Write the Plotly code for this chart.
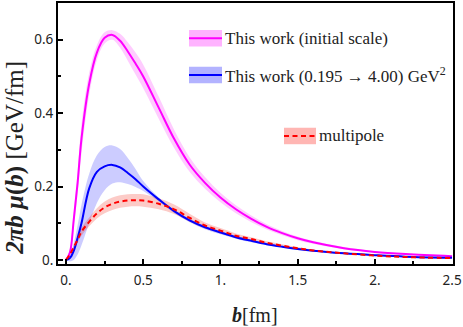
import plotly.graph_objects as go

# ---- data ----
b = [0, 0.025, 0.05, 0.075, 0.1, 0.15, 0.2, 0.25, 0.3, 0.35, 0.4, 0.45, 0.5, 0.6, 0.7, 0.8, 0.9,
     1.0, 1.1, 1.2, 1.3, 1.4, 1.5, 1.6, 1.8, 2.0, 2.2, 2.5]

initial = [0, 0.02, 0.11, 0.21, 0.33, 0.48, 0.565, 0.605, 0.613, 0.597, 0.568, 0.535, 0.50, 0.415, 0.33,
           0.26, 0.21, 0.17, 0.138, 0.112, 0.090, 0.073, 0.059, 0.048, 0.032, 0.022, 0.016, 0.010]
initial_lo = [0, 0.012, 0.09, 0.18, 0.29, 0.45, 0.545, 0.59, 0.600, 0.578, 0.543, 0.505, 0.468, 0.385, 0.305,
              0.24, 0.194, 0.157, 0.127, 0.103, 0.083, 0.067, 0.054, 0.044, 0.029, 0.020, 0.014, 0.009]
initial_hi = [0, 0.03, 0.13, 0.24, 0.37, 0.51, 0.585, 0.62, 0.626, 0.616, 0.593, 0.565, 0.532, 0.445, 0.355,
              0.28, 0.226, 0.183, 0.149, 0.121, 0.097, 0.079, 0.064, 0.052, 0.035, 0.024, 0.018, 0.011]

evolved = [0, 0.005, 0.025, 0.06, 0.10, 0.195, 0.24, 0.255, 0.259, 0.252, 0.237, 0.22, 0.20, 0.165, 0.133,
           0.108, 0.089, 0.075, 0.062, 0.052, 0.043, 0.036, 0.030, 0.025, 0.018, 0.013, 0.009, 0.006]
evolved_lo = [0, -0.004, 0.0, 0.015, 0.04, 0.10, 0.155, 0.19, 0.208, 0.212, 0.207, 0.199, 0.188, 0.160, 0.128,
              0.103, 0.084, 0.070, 0.058, 0.048, 0.040, 0.033, 0.027, 0.023, 0.016, 0.011, 0.008, 0.005]
evolved_hi = [0, 0.012, 0.045, 0.095, 0.15, 0.235, 0.285, 0.308, 0.312, 0.302, 0.278, 0.248, 0.215, 0.170, 0.137,
              0.112, 0.093, 0.079, 0.066, 0.056, 0.046, 0.039, 0.033, 0.027, 0.020, 0.014, 0.010, 0.007]

multipole = [0, 0.015, 0.035, 0.055, 0.077, 0.104, 0.127, 0.143, 0.153, 0.159, 0.162, 0.163, 0.162, 0.153, 0.138,
             0.115, 0.094, 0.080, 0.066, 0.057, 0.047, 0.039, 0.032, 0.026, 0.018, 0.012, 0.008, 0.005]
multipole_lo = [0, 0.012, 0.029, 0.047, 0.066, 0.092, 0.113, 0.127, 0.136, 0.142, 0.145, 0.146, 0.145, 0.138, 0.125,
                0.104, 0.086, 0.073, 0.060, 0.052, 0.043, 0.035, 0.029, 0.024, 0.016, 0.011, 0.007, 0.004]
multipole_hi = [0, 0.018, 0.041, 0.063, 0.088, 0.116, 0.141, 0.159, 0.170, 0.176, 0.179, 0.180, 0.179, 0.168, 0.151,
                0.126, 0.102, 0.087, 0.072, 0.062, 0.051, 0.043, 0.035, 0.028, 0.020, 0.013, 0.009, 0.006]

x_ticks = [0, 0.5, 1.0, 1.5, 2.0, 2.5]
x_ticklabels = ["0.", "0.5", "1.", "1.5", "2.", "2.5"]
y_ticks = [0, 0.2, 0.4, 0.6]
y_ticklabels = ["0.", "0.2", "0.4", "0.6"]

legend_labels = ["This work (initial scale)", "This work (0.195 → 4.00) GeV<sup>2</sup>", "multipole"]

MAG = "#ff00ff"
BLU = "#0000ff"
RED = "#ff0000"
MAG_BAND = "rgba(255,0,255,0.2)"
BLU_BAND = "rgba(0,0,255,0.2)"
RED_BAND = "rgba(240,20,0,0.22)"
MAG_SW = "#ffb3ff"
BLU_SW = "#b3b3ff"
RED_SW = "#ffb6b3"
DASH = "5px,3.5px"

fig = go.Figure()

def band(lo, hi, color):
    fig.add_trace(go.Scatter(x=b, y=lo, mode="lines", line=dict(width=0, shape="spline"),
                             hoverinfo="skip", showlegend=False))
    fig.add_trace(go.Scatter(x=b, y=hi, mode="lines", line=dict(width=0, shape="spline"),
                             fill="tonexty", fillcolor=color, hoverinfo="skip", showlegend=False))

band(initial_lo, initial_hi, MAG_BAND)
band(evolved_lo, evolved_hi, BLU_BAND)
band(multipole_lo, multipole_hi, RED_BAND)

fig.add_trace(go.Scatter(x=b, y=initial, mode="lines", line=dict(color=MAG, width=2, shape="spline"),
                         showlegend=False))
fig.add_trace(go.Scatter(x=b, y=evolved, mode="lines", line=dict(color=BLU, width=2, shape="spline"),
                         showlegend=False))
fig.add_trace(go.Scatter(x=b, y=multipole, mode="lines",
                         line=dict(color=RED, width=2, shape="spline", dash=DASH),
                         showlegend=False))

# ---- custom legend (paper-pixel positions) ----
W, H = 463, 327
L, R, T, B = 58, 10, 1, 63
pw, ph = W - L - R, H - T - B

def px(xp):
    return (xp - L) / pw

def py(yp):
    return 1 - (yp - T) / ph

legend_items = [
    (189, 222, 36.5, MAG_SW, MAG, "solid", legend_labels[0]),
    (189, 222, 73.5, BLU_SW, BLU, "solid", legend_labels[1]),
    (284, 316, 135, RED_SW, RED, DASH, legend_labels[2]),
]
for x0, x1, yc, fc, lc, dash, label in legend_items:
    fig.add_shape(type="rect", xref="paper", yref="paper",
                  x0=px(x0), x1=px(x1), y0=py(yc - 8.3), y1=py(yc + 8.3),
                  fillcolor=fc, line=dict(width=0), layer="above")
    fig.add_shape(type="line", xref="paper", yref="paper",
                  x0=px(x0), x1=px(x1), y0=py(yc), y1=py(yc),
                  line=dict(color=lc, width=2, dash=dash), layer="above")
    fig.add_annotation(xref="paper", yref="paper", x=px(x1 + 1), y=py(yc),
                       text=label, showarrow=False, xanchor="left", yanchor="middle",
                       font=dict(family="Liberation Serif", size=17, color="#222"))

# axis titles as annotations
fig.add_annotation(xref="paper", yref="paper", x=px(15), y=py(157),
                   text="<b><i>2πb μ</i>(<i>b</i>)</b> [GeV/fm]", textangle=-90, showarrow=False,
                   xanchor="center", yanchor="middle",
                   font=dict(family="Liberation Serif", size=25, color="#222"))
fig.add_annotation(xref="paper", yref="paper", x=px(255), y=py(315),
                   text="<b><i>b</i></b>[fm]", showarrow=False,
                   xanchor="center", yanchor="middle",
                   font=dict(family="Liberation Serif", size=20, color="#222"))

axis_common = dict(showline=True, linecolor="black", linewidth=2, mirror=True,
                   ticks="inside", tickcolor="black", tickwidth=1.5, ticklen=5,
                   showgrid=False, zeroline=False,
                   tickfont=dict(family="Noto Sans", size=13.5, color="#222"))

fig.update_xaxes(range=[-0.052, 2.506], tickvals=x_ticks, ticktext=x_ticklabels,
                 ticklabelstandoff=3,
                 minor=dict(tickvals=[0.25, 0.75, 1.25, 1.75, 2.25], ticks="inside", ticklen=3,
                            tickcolor="black", tickwidth=1.5),
                 **axis_common)
fig.update_yaxes(range=[-0.011, 0.70], tickvals=y_ticks, ticktext=y_ticklabels,
                 minor=dict(tickvals=[0.1, 0.3, 0.5], ticks="inside", ticklen=3,
                            tickcolor="black", tickwidth=1.5),
                 **axis_common)

fig.update_layout(width=W, height=H, margin=dict(l=L, r=R, t=T, b=B),
                  paper_bgcolor="white", plot_bgcolor="white", showlegend=False)

fig.write_html("out.html", config={"displayModeBar": False},
               post_script="document.body.style.margin='0px';")
